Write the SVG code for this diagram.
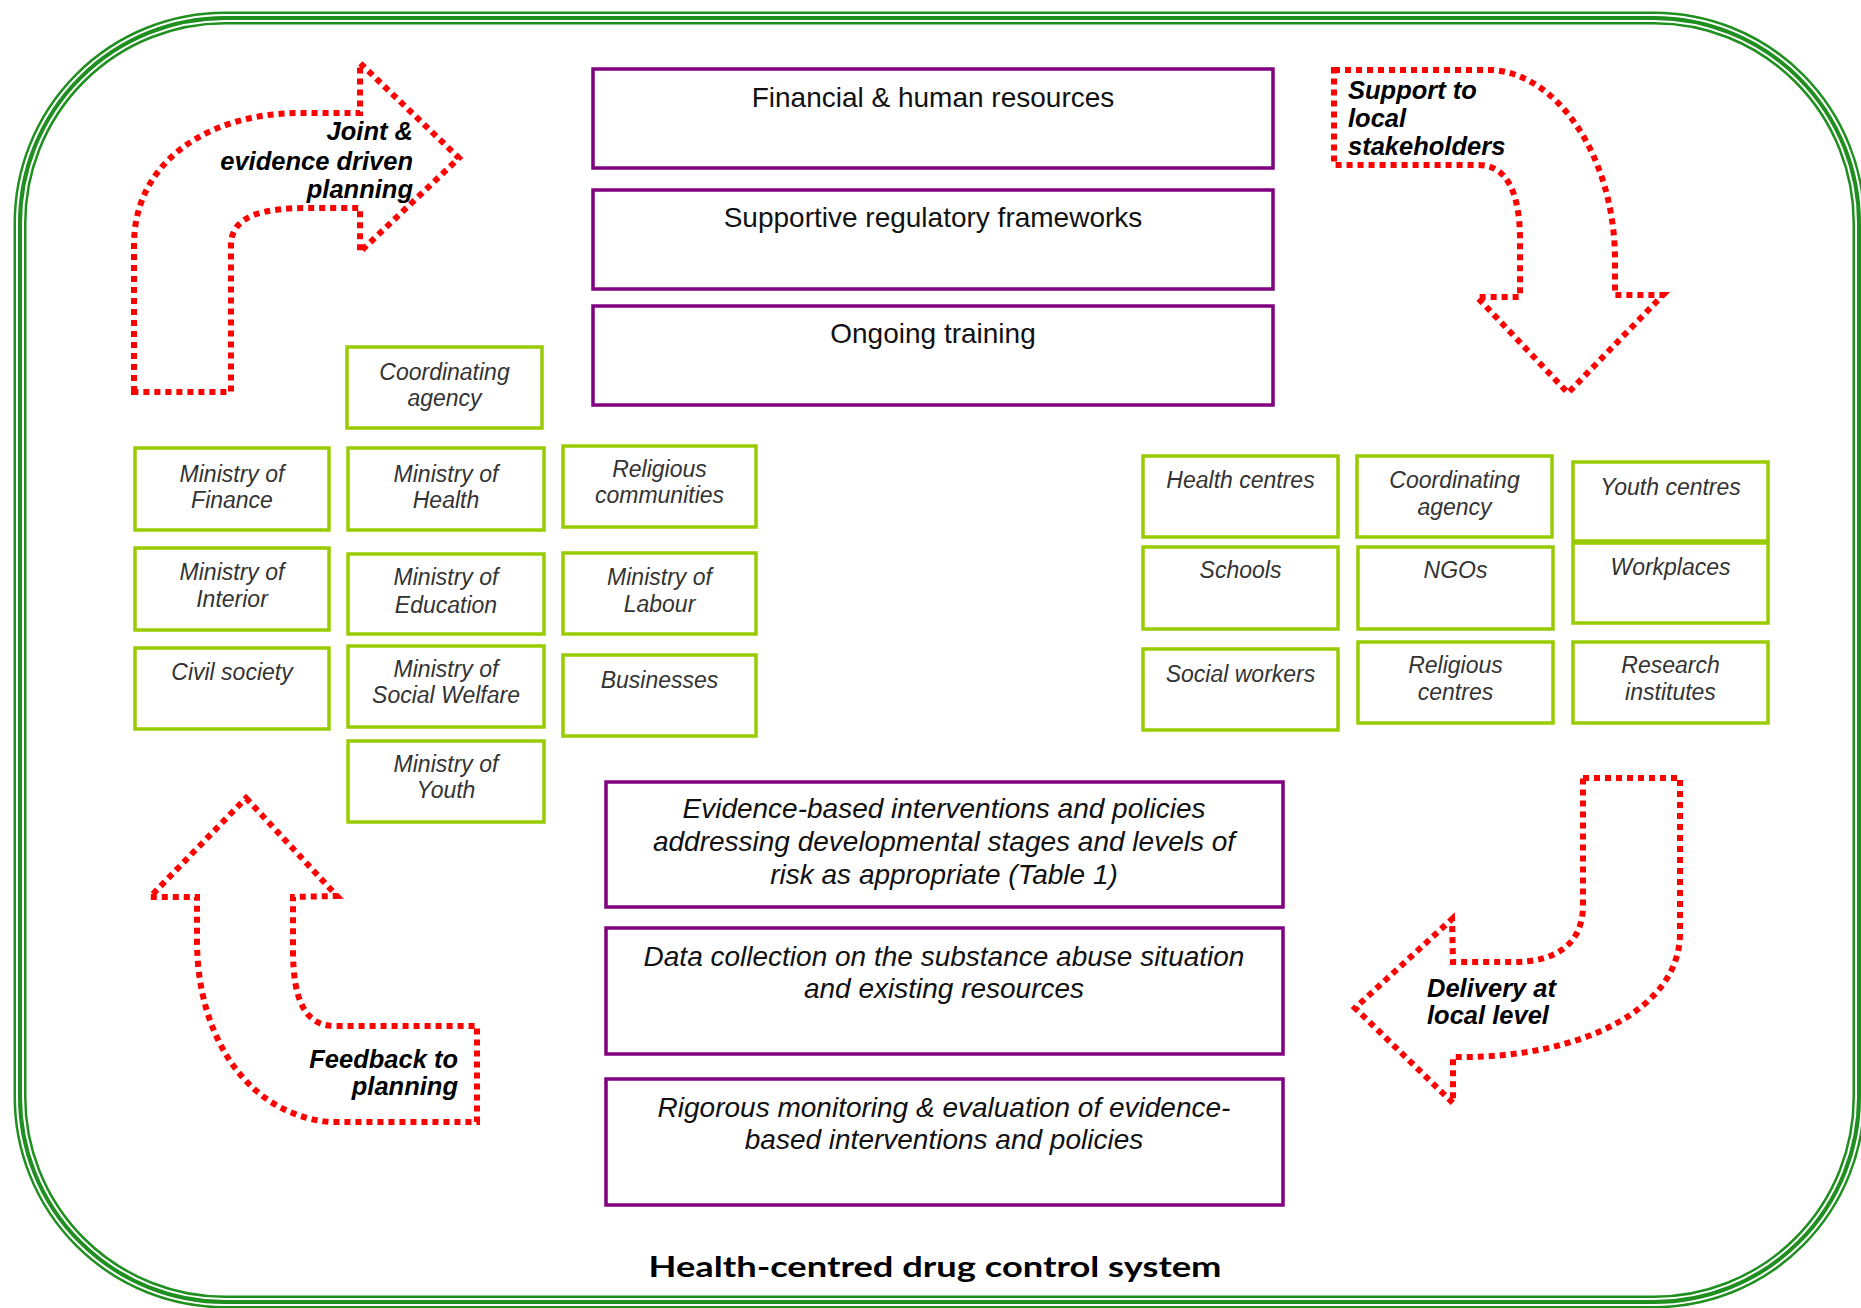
<svg xmlns="http://www.w3.org/2000/svg" width="1861" height="1308" viewBox="0 0 1861 1308">
<style>
.bg{fill:#ffffff}
.frameA{fill:none;stroke:#1f8f1f;stroke-width:13}
.frameB{fill:none;stroke:#ffffff;stroke-width:8}
.frameC{fill:none;stroke:#1f8f1f;stroke-width:4}
.pbox{fill:#ffffff;stroke:#800080;stroke-width:3.5}
.gbox{fill:#ffffff;stroke:#99cc00;stroke-width:3.5}
.arrow{fill:none;stroke:#ff0000;stroke-width:6;stroke-dasharray:6 5;stroke-linejoin:miter}
.pt{font-family:"Liberation Sans",Arial,sans-serif;font-size:28px;fill:#111;text-anchor:middle}
.pti{font-family:"Liberation Sans",Arial,sans-serif;font-size:28px;font-style:italic;fill:#111;text-anchor:middle}
.gt{font-family:"Liberation Sans",Arial,sans-serif;font-size:23px;font-style:italic;fill:#333;text-anchor:middle}
.at{font-family:"Liberation Sans",Arial,sans-serif;font-size:25.5px;font-style:italic;font-weight:bold;fill:#000}
.title{font-family:Lato,"Open Sans",sans-serif;font-size:29px;font-weight:bold;fill:#000;text-anchor:middle}
</style>
<rect class="bg" x="0" y="0" width="1861" height="1308"/>
<g id="frame">
<rect class="frameA" x="20" y="18" width="1839" height="1284" rx="205" ry="205"/>
<rect class="frameB" x="20" y="18" width="1839" height="1284" rx="205" ry="205"/>
<rect class="frameC" x="20" y="18" width="1839" height="1284" rx="205" ry="205"/>
</g>
<g id="connectors">
<g id="arrow-joint-planning">
<path class="arrow" d="M 134 392 L 134 245 C 134 160 210 113 300 113 L 360 113 L 360 63 L 459 158 L 360 252 L 360 208 L 308 208 C 265 208 231 215 231 245 L 231 392 Z"/>
<text class="at" text-anchor="end"><tspan x="413" y="140">Joint &amp;</tspan><tspan x="413" y="170">evidence driven</tspan><tspan x="413" y="198">planning</tspan></text>
</g>
<g id="arrow-support">
<path class="arrow" d="M 1334 70 L 1493 70 C 1560 75 1615 160 1615 260 L 1615 295 L 1663 295 L 1568 393 L 1477 297 L 1520 297 L 1520 240 C 1520 190 1505 165 1479 165 L 1334 165 Z"/>
<text class="at"><tspan x="1348" y="99">Support to</tspan><tspan x="1348" y="127">local</tspan><tspan x="1348" y="155">stakeholders</tspan></text>
</g>
<g id="arrow-feedback">
<path class="arrow" d="M 246 798 L 337 896 L 293 897 L 293 950 C 293 1000 305 1026 335 1026 L 477 1026 L 477 1122 L 330 1122 C 250 1115 197 1040 197 940 L 197 897 L 150 897 Z"/>
<text class="at" text-anchor="end"><tspan x="458" y="1068">Feedback to</tspan><tspan x="458" y="1095">planning</tspan></text>
</g>
<g id="arrow-delivery">
<path class="arrow" d="M 1583 778 L 1680 778 L 1680 933 C 1680 1010 1580 1057 1463 1057 L 1453 1057 L 1453 1103 L 1355 1008 L 1452 919 L 1453 962 L 1513 962 C 1555 962 1583 945 1583 905 Z"/>
<text class="at"><tspan x="1427" y="997">Delivery at</tspan><tspan x="1427" y="1024">local level</tspan></text>
</g>
</g>
<g id="n-financial"><rect class="pbox" x="593" y="69" width="680" height="99"/><text class="pt" x="933" y="107">Financial &amp; human resources</text></g>
<g id="n-regulatory"><rect class="pbox" x="593" y="190" width="680" height="99"/><text class="pt" x="933" y="227">Supportive regulatory frameworks</text></g>
<g id="n-training"><rect class="pbox" x="593" y="306" width="680" height="99"/><text class="pt" x="933" y="343">Ongoing training</text></g>
<g id="n-evidence"><rect class="pbox" x="606" y="782" width="677" height="125"/><text class="pti"><tspan x="944" y="818">Evidence-based interventions and policies</tspan><tspan x="944" y="851">addressing developmental stages and levels of</tspan><tspan x="944" y="884">risk as appropriate (Table 1)</tspan></text></g>
<g id="n-data"><rect class="pbox" x="606" y="928" width="677" height="126"/><text class="pti"><tspan x="944" y="966">Data collection on the substance abuse situation</tspan><tspan x="944" y="998">and existing resources</tspan></text></g>
<g id="n-monitoring"><rect class="pbox" x="606" y="1079" width="677" height="126"/><text class="pti"><tspan x="944" y="1117">Rigorous monitoring &amp; evaluation of evidence-</tspan><tspan x="944" y="1149">based interventions and policies</tspan></text></g>
<g id="n-coord-national"><rect class="gbox" x="347" y="347" width="195" height="81"/><text class="gt"><tspan x="444.5" y="380">Coordinating</tspan><tspan x="444.5" y="406">agency</tspan></text></g>
<g id="n-finance"><rect class="gbox" x="135" y="448" width="194" height="82"/><text class="gt"><tspan x="232" y="482">Ministry of</tspan><tspan x="232" y="508">Finance</tspan></text></g>
<g id="n-health"><rect class="gbox" x="348" y="448" width="196" height="82"/><text class="gt"><tspan x="446" y="482">Ministry of</tspan><tspan x="446" y="508">Health</tspan></text></g>
<g id="n-religious-comm"><rect class="gbox" x="563" y="446" width="193" height="81"/><text class="gt"><tspan x="659.5" y="477">Religious</tspan><tspan x="659.5" y="503">communities</tspan></text></g>
<g id="n-interior"><rect class="gbox" x="135" y="548" width="194" height="82"/><text class="gt"><tspan x="232" y="580">Ministry of</tspan><tspan x="232" y="607">Interior</tspan></text></g>
<g id="n-education"><rect class="gbox" x="348" y="554" width="196" height="80"/><text class="gt"><tspan x="446" y="585">Ministry of</tspan><tspan x="446" y="613">Education</tspan></text></g>
<g id="n-labour"><rect class="gbox" x="563" y="553" width="193" height="81"/><text class="gt"><tspan x="659.5" y="585">Ministry of</tspan><tspan x="659.5" y="612">Labour</tspan></text></g>
<g id="n-civil"><rect class="gbox" x="135" y="648" width="194" height="81"/><text class="gt" x="232" y="680">Civil society</text></g>
<g id="n-welfare"><rect class="gbox" x="348" y="646" width="196" height="81"/><text class="gt"><tspan x="446" y="677">Ministry of</tspan><tspan x="446" y="703">Social Welfare</tspan></text></g>
<g id="n-businesses"><rect class="gbox" x="563" y="655" width="193" height="81"/><text class="gt" x="659.5" y="688">Businesses</text></g>
<g id="n-youth"><rect class="gbox" x="348" y="741" width="196" height="81"/><text class="gt"><tspan x="446" y="772">Ministry of</tspan><tspan x="446" y="798">Youth</tspan></text></g>
<g id="n-health-centres"><rect class="gbox" x="1143" y="456" width="195" height="81"/><text class="gt" x="1240.5" y="488">Health centres</text></g>
<g id="n-coord-local"><rect class="gbox" x="1357" y="456" width="195" height="81"/><text class="gt"><tspan x="1454.5" y="488">Coordinating</tspan><tspan x="1454.5" y="515">agency</tspan></text></g>
<g id="n-youth-centres"><rect class="gbox" x="1573" y="462" width="195" height="79"/><text class="gt" x="1670.5" y="495">Youth centres</text></g>
<g id="n-schools"><rect class="gbox" x="1143" y="547" width="195" height="82"/><text class="gt" x="1240.5" y="578">Schools</text></g>
<g id="n-ngos"><rect class="gbox" x="1358" y="547" width="195" height="82"/><text class="gt" x="1455.5" y="578">NGOs</text></g>
<g id="n-workplaces"><rect class="gbox" x="1573" y="543" width="195" height="80"/><text class="gt" x="1670.5" y="575">Workplaces</text></g>
<g id="n-social-workers"><rect class="gbox" x="1143" y="649" width="195" height="81"/><text class="gt" x="1240.5" y="682">Social workers</text></g>
<g id="n-religious-centres"><rect class="gbox" x="1358" y="642" width="195" height="81"/><text class="gt"><tspan x="1455.5" y="673">Religious</tspan><tspan x="1455.5" y="700">centres</tspan></text></g>
<g id="n-research"><rect class="gbox" x="1573" y="642" width="195" height="81"/><text class="gt"><tspan x="1670.5" y="673">Research</tspan><tspan x="1670.5" y="700">institutes</tspan></text></g>
<g id="title"><text class="title" x="935" y="1277" textLength="573" lengthAdjust="spacingAndGlyphs">Health-centred drug control system</text></g>
</svg>
